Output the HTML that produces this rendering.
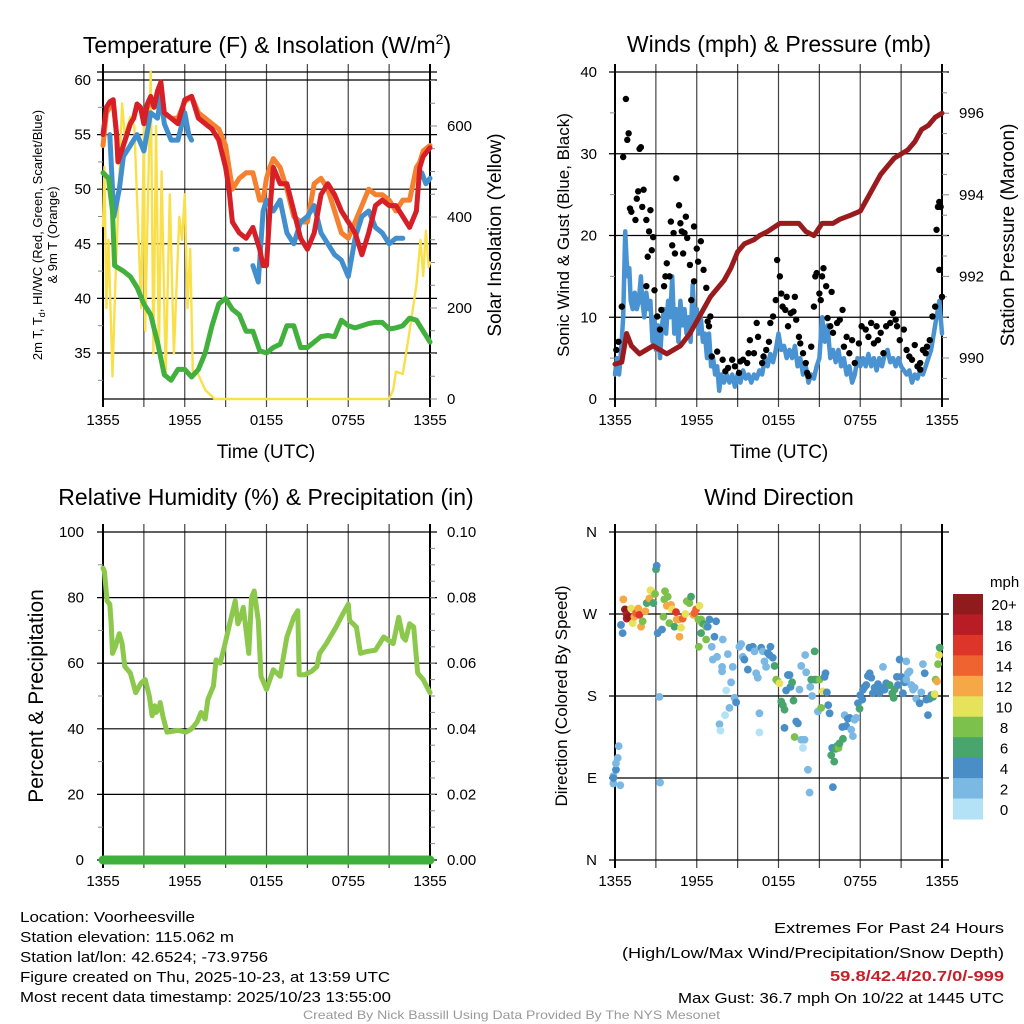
<!DOCTYPE html>
<html><head><meta charset="utf-8"><style>
html,body{margin:0;padding:0;background:#fff}
svg{display:block;font-family:"Liberation Sans",sans-serif}
</style></head><body>
<svg id="c" width="1024" height="1024" viewBox="0 0 1024 1024" xmlns="http://www.w3.org/2000/svg">
<rect width="1024" height="1024" fill="#fff"/>
<g id="gTL"></g>
<g id="gTR"></g>
<g id="gBL"></g>
<g id="gBR"></g>
<text x="267" y="53" font-size="23" text-anchor="middle">Temperature (F) &amp; Insolation (W/m<tspan dy="-9" font-size="14">2</tspan><tspan dy="9">)</tspan></text>
<text x="779" y="52" font-size="23" text-anchor="middle">Winds (mph) &amp; Pressure (mb)</text>
<text x="266" y="505" font-size="23" text-anchor="middle">Relative Humidity (%) &amp; Precipitation (in)</text>
<text x="779" y="505" font-size="23" text-anchor="middle">Wind Direction</text>
<text x="266" y="458" font-size="19" text-anchor="middle">Time (UTC)</text>
<text x="779" y="458" font-size="19" text-anchor="middle">Time (UTC)</text>
<g font-size="13">
<text transform="translate(42,235) rotate(-90)" text-anchor="middle">2m T, T<tspan dy="3" font-size="9">d</tspan><tspan dy="-3">, HI/WC (Red, Green, Scarlet/Blue)</tspan></text>
<text transform="translate(57,235) rotate(-90)" text-anchor="middle">&amp; 9m T (Orange)</text>
</g>
<text transform="translate(501,235) rotate(-90)" font-size="19" text-anchor="middle">Solar Insolation (Yellow)</text>
<text transform="translate(569,235) rotate(-90)" font-size="17" text-anchor="middle">Sonic Wind &amp; Gust (Blue, Black)</text>
<text transform="translate(1014,235) rotate(-90)" font-size="19" text-anchor="middle">Station Pressure (Maroon)</text>
<text transform="translate(43,696) rotate(-90)" font-size="21" text-anchor="middle">Percent &amp; Precipitation</text>
<text transform="translate(567,696) rotate(-90)" font-size="17" text-anchor="middle">Direction (Colored By Speed)</text>
<g font-size="15">
<text x="20" y="922" textLength="175" lengthAdjust="spacingAndGlyphs">Location: Voorheesville</text>
<text x="20" y="942" textLength="214" lengthAdjust="spacingAndGlyphs">Station elevation: 115.062 m</text>
<text x="20" y="962" textLength="248" lengthAdjust="spacingAndGlyphs">Station lat/lon: 42.6524; -73.9756</text>
<text x="20" y="982" textLength="370" lengthAdjust="spacingAndGlyphs">Figure created on Thu, 2025-10-23, at 13:59 UTC</text>
<text x="20" y="1002" textLength="371" lengthAdjust="spacingAndGlyphs">Most recent data timestamp: 2025/10/23 13:55:00</text>
</g>
<g font-size="15">
<text x="774" y="933" textLength="230" lengthAdjust="spacingAndGlyphs">Extremes For Past 24 Hours</text>
<text x="622" y="958" textLength="382" lengthAdjust="spacingAndGlyphs">(High/Low/Max Wind/Precipitation/Snow Depth)</text>
<text x="830" y="981" textLength="174" lengthAdjust="spacingAndGlyphs" fill="#c8202a" font-weight="bold">59.8/42.4/20.7/0/-999</text>
<text x="678" y="1003" textLength="326" lengthAdjust="spacingAndGlyphs">Max Gust: 36.7 mph On 10/22 at 1445 UTC</text>
</g>
<text x="303" y="1019" font-size="12" fill="#999" textLength="417" lengthAdjust="spacingAndGlyphs">Created By Nick Bassill Using Data Provided By The NYS Mesonet</text>
</svg>
<script>
// ---------- data (hours since 1355 UTC) ----------
const xTickLabels = ["1355","1955","0155","0755","1355"];
const tHours = [0,0.25,0.5,0.75,1.0,1.1,1.5,2.0,2.25,2.5,2.75,3.0,3.25,3.5,3.75,4.0,4.25,4.5,5,5.5,6,6.5,7,7.5,8,8.5,9,9.25,9.5,10,10.5,11,11.5,11.75,12,12.25,12.5,13,13.5,14,14.5,15,15.5,16,16.5,17,17.5,18,18.5,19,19.5,20,20.5,21,21.5,22,22.5,23,23.25,23.5,24];
const tempRed = [55,57.5,58,58.2,55,52.5,54,56,56.5,57.8,57.5,56,57.8,58.5,57.5,59,59.8,57,56.5,56,58.2,58.5,56.5,56,55.5,54.5,52,50,47,46,45.5,46.5,44.5,43,43,48,52,50.5,50.5,48,45.5,44.5,46,49.5,50.5,49.5,48,47,46,44,46,48.5,49,48.5,48.5,47.5,46.5,48,52,53,53.8];
const temp9m = [54,57,57.5,58,55,52.5,54,56,56.5,57.8,57.5,56,57.5,58,57.5,58.5,59,57,56.5,56.5,58,58.5,57,56.5,56,55.5,54,52,50,51,51.5,51.5,49,49,51,52,52.8,52,50,47.5,47,47,50.5,51,50,48,46,45.5,47,48.5,50,49.5,49.5,49,48,49,49,52,52.5,53.5,54];
const wcHours = [0.5,0.8,1.2,1.5,2,2.5,3,3.5,4,4.25,4.5,5,5.5,6,6.3,6.5,null,9.7,9.85,null,11,11.4,11.75,12,12.5,13,13.5,14,14.5,15,15.5,16,16.5,17,17.5,18,18.5,19,19.5,20,20.5,21,21.5,22,null,23.4,23.7,24];
const windChill = [55,47.5,50,53,54,55,53.5,57,56.5,58.5,56,54.5,54.5,57,55,54.5,null,44.5,44.5,null,43,41.5,48,49,48,49,46,45,47,47.5,48.5,46,45,44,43.5,42,45.5,47.5,48,46.5,46,45,45.5,45.5,null,51.5,50.5,51];
const tdHours = [0,0.4,0.7,0.85,1.5,2,2.5,3,3.5,4,4.5,5,5.5,6,6.5,7,7.5,8,8.5,9,9.5,10,10.5,11,11.5,12,12.5,13,13.5,14,14.5,15,15.5,16,16.5,17,17.5,18,18.5,19,19.5,20,20.5,21,21.5,22,22.5,23,23.5,24];
const dewpoint = [51.5,51,48,43,42.5,42,41,39.5,38.5,36,33,32.5,33.5,33.5,32.8,33.5,35,37.5,39.5,40,39,38.5,37,37,35.2,35,35.5,35.8,37.5,37.5,35.5,35.5,36,36.5,36.6,36.5,38,37.5,37.3,37.5,37.7,37.8,37.8,37.2,37.3,37.5,38.2,38,37,36];
const solHours = [0,0.1,0.25,0.4,0.7,0.9,1.4,1.6,2,2.3,2.8,3.0,3.1,3.5,3.7,3.9,4.1,4.3,4.6,4.9,5.2,5.6,5.8,6.0,6.2,6.4,6.6,6.9,7.5,8.2,21,21.3,21.5,22,22.5,23,23.3,23.5,23.7,23.9,24];
const solar = [380,510,200,350,50,250,650,580,620,600,200,600,150,720,100,600,100,500,50,450,100,400,350,450,200,330,50,60,20,0,0,20,60,55,150,250,350,270,370,290,300];
const presHours = [0,0.5,0.85,1.2,1.8,2.3,2.8,3.3,3.8,4.3,4.8,5.5,6.0,6.5,7.0,7.5,8.0,8.5,9.0,9.5,10.2,10.6,11.2,12.1,12.8,13.5,14.0,14.6,15.2,16.0,16.5,17.3,18.0,18.5,19.0,19.5,20.0,20.5,21.0,21.5,22.0,22.5,23.0,23.5,24];
const pressure = [989.85,989.9,990.6,990.3,990.1,990.2,990.3,990.2,990.1,990.2,990.3,990.6,990.9,991.2,991.5,991.7,991.9,992.2,992.6,992.8,992.9,993.0,993.1,993.3,993.3,993.3,993.1,993.0,993.3,993.3,993.4,993.5,993.6,993.9,994.2,994.5,994.7,994.9,995.0,995.1,995.3,995.6,995.7,995.9,996.0];
const windHours = [0,0.15,0.3,0.45,0.6,0.75,0.85,0.95,1.05,1.15,1.3,1.45,1.6,1.75,1.9,2.0,2.15,2.3,2.45,2.6,2.75,2.9,3.0,3.15,3.3,3.45,3.6,3.75,3.9,4.05,4.2,4.35,4.5,4.65,4.8,4.95,5.1,5.25,5.4,5.55,5.7,5.85,6.0,6.15,6.3,6.45,6.6,6.75,6.9,7.05,7.2,7.35,7.5,7.65,7.8,8.0,8.2,8.4,8.6,8.8,9.0,9.2,9.4,9.6,9.8,10.0,10.2,10.4,10.6,10.8,11.0,11.2,11.4,11.6,11.8,12.0,12.2,12.4,12.6,12.8,13.0,13.2,13.4,13.6,13.8,14.0,14.2,14.4,14.6,14.8,15.0,15.2,15.4,15.6,15.8,16.0,16.2,16.4,16.6,16.8,17.0,17.2,17.4,17.6,17.8,18.0,18.2,18.4,18.6,18.8,19.0,19.2,19.4,19.6,19.8,20.0,20.2,20.4,20.6,20.8,21.0,21.2,21.4,21.6,21.8,22.0,22.2,22.4,22.6,22.8,23.0,23.2,23.4,23.6,23.8,24.0];
const windSpeed = [3,5,3,6,10,20.5,17,15,16,12,11,13,11,12,15,12,10,13,11,12,7,10,6,9,5,9,11,8,12,10,15,8,11,7,12,9,11,8,10,7,14,9,11,8,10,7,8,5,8,4,5,3,4,1,3,2,3,2,3,1.5,3,2,3.5,2.5,3,2,3,2.5,3.5,3,5,4,5.5,4.5,6,8,6,6.5,5,6,5,6.5,4,5,3,4,2,3,2.5,4,5,10,7,9,5,6,4.5,6,4,5,3,4,2,3,5,4,5,4,5.5,4,5,3.5,5,4,5.5,6,4.5,5,4,5,4,3.5,3,3.5,2,3,2.5,3.5,3,4,5,6,8,10,12,8];
const gustHours = [0.6,0.8,0.9,1.0,1.8,1.9,0.5,0.1,0.25,1.2,1.1,1.5,1.6,1.7,2.1,2.0,2.3,2.6,2.5,2.7,2.8,2.4,2.3,2.9,3.1,3.3,3.4,3.6,3.8,3.7,4.0,4.1,4.3,4.2,4.4,4.5,4.7,4.8,4.9,5.0,5.2,5.1,5.3,5.5,5.6,5.8,5.8,6.0,6.1,6.3,6.5,6.7,7.0,6.9,6.8,7.1,7.5,7.9,8.1,8.3,8.6,8.8,9.1,9.2,9.4,9.7,9.8,9.9,10.2,10.4,10.5,10.8,10.9,11.1,11.3,11.4,11.6,11.8,11.9,12.1,12.2,12.3,12.5,12.6,12.7,12.9,13.1,13.2,13.3,13.5,13.6,13.8,14.0,14.1,14.2,14.4,14.6,14.7,14.8,15.0,15.1,15.2,15.3,15.5,15.6,15.8,15.9,16.0,16.3,16.5,16.7,16.8,17.0,17.2,17.4,17.6,17.9,18.1,18.4,18.6,18.8,19.0,19.2,19.3,19.5,19.7,19.9,20.2,20.4,20.6,20.7,20.9,21.2,21.4,21.6,21.8,22.0,22.2,22.4,22.6,22.8,22.9,23.1,23.3,23.5,23.6,23.7,23.8,23.9,23.8,24.0,22.4];
const gustSpeed = [29.6,36.7,31.7,32.5,30.6,30.8,11.3,6,7,22.9,23.3,21.9,24.5,25.4,25.6,23.5,21.9,23.1,20.5,18.2,19.8,17.4,13.8,13.3,10.1,8.5,10.9,13.8,16.6,15,15,21.7,20.3,18.8,17.8,27,23.7,21.5,20.5,17.8,22.3,20.3,19.7,16.4,12.1,14.4,21.1,18.4,16.8,19.3,15.8,13.6,10.1,8.9,9.5,5.2,5.8,4.8,3.4,3.8,4.8,4,3.2,4.6,4.8,4.4,5.6,7.2,5.6,9.3,7.6,4.4,5.2,6,7,9.3,10.1,12.1,17,15,12.9,11.3,10.9,12.5,8.9,10.5,10.7,12.5,9.7,7.6,6.8,5.6,4.4,3.2,2.8,6.4,11.3,15,15.4,12.9,12.1,15,16,13.8,9.9,8.9,13.1,8.1,9.3,9.7,10.9,6.4,7.6,5.6,7.2,4.4,6.8,8.9,8.5,7.6,9.3,6.8,8.9,7.2,8.1,5.6,8.9,9.3,10.5,9.7,8.9,7.2,8.5,6,5.2,4.8,6.6,4,4.4,6,5.6,6.4,7.2,10.1,11.3,20.7,23.5,24.1,23.5,15.8,12.5,3.6];
const rhHours = [0,0.1,0.3,0.5,0.6,0.7,0.9,1.2,1.4,1.6,2.0,2.2,2.4,2.8,3.1,3.4,3.6,3.8,3.9,4.1,4.2,4.4,4.7,5.5,6.1,6.5,6.9,7.2,7.5,7.7,8.1,8.3,8.6,8.9,9.3,9.7,9.9,10.1,10.3,10.5,10.7,10.9,11.1,11.4,11.6,12.0,12.5,13.0,13.2,13.5,14.0,14.3,14.4,14.8,15.3,15.7,15.9,16.4,17.1,17.6,18.0,18.1,18.6,18.9,19.3,20.0,20.6,21.3,21.7,22.0,22.2,22.5,22.8,23.1,23.5,24];
const humidity = [89,88,79,78,72,63,65,69,66,59,57,54,51,54,55,50,44,47,45,46,48,43.7,39,39.5,39,40,42,45,43,49,53,61,60,65,72,79,72,74,77,70,63,80,82,73,56,52,58,56,61,68,74,76,56.5,56.5,57.5,59,63,66,71,75,78,73,71,63,63.5,64,68,66,74,68,67,72,71,57,55,51];
const precipHours = [0,24];
const precip = [0,0];
const dirHours = [-0.12,-0.12,0.07,0.2,0.27,0.07,0.39,-0.12,0.44,0.56,0.61,0.73,0.86,0.86,0.98,1.18,1.3,1.42,1.54,1.71,1.79,1.91,2.03,2.23,2.33,2.52,2.6,2.69,2.82,2.94,3.01,3.06,3.13,3.26,3.31,3.45,3.55,3.62,3.67,3.8,3.87,3.99,4.11,4.19,4.36,4.48,4.53,4.68,4.73,4.85,4.97,5.17,5.27,5.46,5.58,5.76,5.83,5.95,6.12,6.2,6.32,6.39,6.51,6.69,6.81,6.93,6.15,6.32,6.69,7.42,7.3,7.1,7.18,7.49,7.86,7.86,7.91,8.16,8.28,8.4,8.52,8.64,8.77,8.89,7.67,7.74,8.08,9.13,9.26,9.38,9.5,9.75,9.87,10.11,10.24,10.36,10.48,10.6,10.6,10.73,10.85,10.97,11.09,11.22,11.34,11.41,11.58,11.71,11.83,11.95,12.07,12.2,12.32,12.44,12.56,12.69,12.81,12.88,13.0,13.1,13.3,13.42,13.18,12.44,13.54,13.67,13.79,13.67,13.91,13.96,14.03,14.16,14.28,14.33,14.4,14.47,14.65,14.65,14.77,14.89,15.01,15.13,15.26,15.38,15.45,15.55,15.65,15.75,15.87,15.94,15.99,16.09,16.19,16.29,16.41,16.48,16.73,16.68,16.85,16.97,17.09,17.22,17.34,17.46,17.58,17.71,17.83,17.95,18.0,18.15,18.2,18.32,18.44,18.56,18.69,18.81,18.93,19.05,19.18,19.3,19.42,19.54,19.67,19.79,19.91,20.16,20.35,20.45,20.52,20.69,20.77,20.89,21.01,21.13,21.26,21.38,21.38,21.5,21.62,21.75,21.87,21.99,22.11,22.36,22.48,22.6,22.73,22.85,22.97,23.09,23.22,23.34,23.46,23.53,23.63,23.71,23.78,23.83,24.0];
const dirDeg = [84,92,99,112,125,106,82,90,258,249,286,275,265,269,267,276,260,267,271,276,269,256,262,273,282,287,296,295,282,292,319,323,249,179,85,253,267,286,295,279,289,260,280,275,256,272,264,264,245,255,265,270,284,282,289,269,271,275,264,279,264,260,259,256,256,264,234,249,242,262,245,234,220,223,212,207,242,186,226,167,195,212,178,173,149,142,159,234,237,223,220,209,233,234,229,205,200,161,140,233,229,218,212,227,225,234,222,213,198,196,194,174,170,165,186,203,203,190,195,175,152,150,135,145,187,213,123,132,132,225,206,99,74,190,198,180,229,198,198,163,198,167,185,201,205,184,170,161,115,123,80,108,122,125,123,128,133,146,159,147,155,156,143,136,154,156,172,166,181,176,187,190,192,202,205,200,183,189,190,193,183,189,212,187,194,192,183,178,187,201,192,220,201,183,195,198,218,205,207,192,187,189,177,172,184,215,205,176,159,177,181,179,182,198,196,215,225,233,218];
const dirSpeed = [3,2,4,2,2,2,2,4,4,4,12,20,18,18,20,10,10,12,14,12,16,12,8,12,6,12,10,10,6,8,6,4,4,2,2,4,8,8,8,12,8,8,12,10,6,16,12,12,12,10,14,10,8,8,6,12,14,14,8,10,8,8,6,8,4,4,8,6,8,4,4,2,2,2,2,2,2,0,2,2,2,2,2,4,2,0,1,2,2,2,4,4,4,4,2,2,2,2,0,4,2,2,2,4,4,4,4,6,8,8,10,6,6,6,4,4,4,4,6,6,4,4,8,4,2,2,0,2,2,2,2,2,2,2,6,2,6,6,6,2,8,8,10,4,4,4,4,4,6,4,4,6,6,6,8,6,6,4,2,4,4,4,2,2,2,2,4,6,4,4,4,4,4,4,4,4,4,4,4,4,4,4,2,4,4,6,6,6,6,4,4,4,4,4,4,2,2,2,2,2,2,2,2,4,2,2,4,4,4,4,4,6,10,8,12,8,10,6];
const speedBins = ["0","2","4","6","8","10","12","14","16","18","20+"];
const speedColors = ["#b3e2f6","#7bb8e3","#4a8ec7","#48a56d","#7cc14b","#e6e25a","#f5a845","#ee6330","#dd3529","#b81c24","#911a1c"];

// ---------- helpers ----------
const NS="http://www.w3.org/2000/svg";
function mk(parent,tag,attrs){const e=document.createElementNS(NS,tag);for(const k in attrs)e.setAttribute(k,attrs[k]);parent.appendChild(e);return e;}
function xs(x0,x1){return h=>x0+h*(x1-x0)/24;}
function pathFrom(hs,vs,fx,fy){let d="",pen=false;for(let i=0;i<hs.length;i++){if(hs[i]===null||vs[i]===null){pen=false;continue;}d+=(pen?"L":"M")+fx(hs[i]).toFixed(1)+","+fy(vs[i]).toFixed(1);pen=true;}return d;}
function frame(g,x0,x1,yTop,yBot,prefix){
  for(let h=0;h<=24;h+=3){const x=x0+h*(x1-x0)/24;
    const l=mk(g,"line",{x1:x,x2:x,y1:yTop-8,y2:yBot+8,stroke:(h===0||h===24)?"#000":"#444","stroke-width":(h===0||h===24)?2:1.2});
    
    }
  for(let i=0;i<xTickLabels.length;i++){const x=x0+i*6*(x1-x0)/24;
    const t=mk(g,"text",{x:x,y:yBot+26,"font-size":15,"text-anchor":"middle"});t.textContent=xTickLabels[i];
    
    }
}
function hgrid(g,x0,x1,y,prefix,major){const l=mk(g,"line",{x1:x0-6,x2:x1+7,y1:y,y2:y,stroke:major?"#000":"#555","stroke-width":1.2});
  
  }
function tick(g,x,y,len,prefix){const l=mk(g,"line",{x1:x,x2:x+len,y1:y,y2:y,stroke:"#888","stroke-width":1});
  
  }
function label(g,x,y,txt,anchor,prefix,size){const t=mk(g,"text",{x:x,y:y+5,"font-size":size||15,"text-anchor":anchor});t.textContent=txt;
  
  }
function line(g,d,color,w,name){const p=mk(g,"path",{d:d,fill:"none",stroke:color,"stroke-width":w,"stroke-linejoin":"round","stroke-linecap":"round"});
  
  return p;}

// ---------- Top-left: temperature ----------
(function(){const g=document.getElementById("gTL");const X0=103,X1=430,YT=72,YB=399;const fx=xs(X0,X1);
  const fy=v=>80+(60-v)*54.6/5; const fs=w=>399-w*0.455;
  frame(g,X0,X1,YT,YB,"temp");
  hgrid(g,X0,X1,YT,"temp",true);
  for(let v=35;v<=60;v+=5){hgrid(g,X0,X1,fy(v),"temp",true);label(g,91,fy(v),String(v),"end","temp-left");}
  for(let v=32.5;v<60;v+=5){tick(g,X0-5,fy(v),5,"temp-left");}
  mk(g,"line",{x1:X0,x2:X1,y1:YB,y2:YB,stroke:"#000","stroke-width":1.2});
  for(let w=0;w<=600;w+=200){tick(g,X1,fs(w),7,"insolation");label(g,447,fs(w),String(w),"start","insolation");}
  for(let w=50;w<=700;w+=50){if(w%200)tick(g,X1,fs(w),5,"insolation");}
  line(g,pathFrom(solHours,solar,fx,fs),"#f9e04b",2.4,"solar-insolation-line");
  line(g,pathFrom(tHours,temp9m,fx,fy),"#f5802f",5,"temp-9m-line");
  line(g,pathFrom(wcHours,windChill,fx,fy),"#428fcd",5,"heat-index-wind-chill-line");
  line(g,pathFrom(tHours,tempRed,fx,fy),"#d61f26",5,"temp-2m-line");
  line(g,pathFrom(tdHours,dewpoint,fx,fy),"#42b03d",5,"dewpoint-line");
})();

// ---------- Top-right: winds & pressure ----------
(function(){const g=document.getElementById("gTR");const X0=615,X1=942,YT=72,YB=399;const fx=xs(X0,X1);
  const fw=v=>399-v*8.175; const fp=p=>358-(p-990)*40.8;
  frame(g,X0,X1,YT,YB,"wind");
  for(let v=0;v<=40;v+=10){hgrid(g,X0,X1,fw(v),"wind",true);label(g,597,fw(v),String(v),"end","wind-left");}
  for(let v=5;v<40;v+=10){tick(g,X0-5,fw(v),5,"wind-left");}
  for(let p=990;p<=996;p+=2){tick(g,X1,fp(p),7,"pressure");label(g,959,fp(p),String(p),"start","pressure");}
  for(let p=989.5;p<=997;p+=0.5){if(p%2)tick(g,X1,fp(p),5,"pressure");}
  line(g,pathFrom(windHours,windSpeed,fx,fw),"#4a93d3",4.5,"sonic-wind-line");
  line(g,pathFrom(presHours,pressure,fx,fp),"#9a1b1e",5,"station-pressure-line");
  for(let i=0;i<gustHours.length;i++){const c=mk(g,"circle",{cx:fx(gustHours[i]),cy:fw(gustSpeed[i]),r:3.2,fill:"#000"});
    
    }
})();

// ---------- Bottom-left: humidity ----------
(function(){const g=document.getElementById("gBL");const X0=103,X1=430,YT=532,YB=860;const fx=xs(X0,X1);
  const fr=v=>860-v*3.28; const fq=q=>860-q*3280;
  frame(g,X0,X1,YT,YB,"rh");
  for(let v=0;v<=100;v+=20){hgrid(g,X0,X1,fr(v),"rh",true);label(g,84,fr(v),String(v),"end","rh-left");}
  for(let v=10;v<100;v+=20){tick(g,X0-5,fr(v),5,"rh-left");}
  for(let q=0;q<=0.1001;q+=0.02){label(g,447,fq(q),q.toFixed(2),"start","precip");}
  for(let q=0.005;q<0.1;q+=0.005){tick(g,X1,fq(q),5,"precip");}
  line(g,pathFrom(rhHours,humidity,fx,fr),"#8cc84b",5,"relative-humidity-line");
  line(g,pathFrom(precipHours,precip,fx,fq),"#3fb03c",9,"precipitation-line");
})();

// ---------- Bottom-right: wind direction ----------
(function(){const g=document.getElementById("gBR");const X0=615,X1=942,YT=532,YB=860;const fx=xs(X0,X1);
  const fd=d=>860-d*328/360;
  frame(g,X0,X1,YT,YB,"dir");
  const dirs=["N","E","S","W","N"];
  for(let i=0;i<5;i++){hgrid(g,X0,X1,fd(i*90),"dir",true);label(g,597,fd(i*90),dirs[i],"end","dir-left");}
  const n=Math.min(dirHours.length,dirDeg.length,dirSpeed.length);
  for(let i=0;i<n;i++){const b=Math.min(10,Math.floor(dirSpeed[i]/2));
    const c=mk(g,"circle",{cx:fx(dirHours[i]),cy:fd(dirDeg[i]),r:3.9,fill:speedColors[b]});
    
    }
  const L=document.getElementById("c");
  const t=mk(L,"text",{x:990,y:587,"font-size":15,"text-anchor":"start"});t.textContent="mph";
  
  
  const bh=(819-594)/11;
  for(let i=0;i<11;i++){const k=10-i;const y=594+i*bh;
    const r=mk(L,"rect",{x:953,y:y,width:30,height:bh+0.5,fill:speedColors[k]});
    
    
    const tt=mk(L,"text",{x:1004,y:y+bh/2+6,"font-size":15,"text-anchor":"middle"});tt.textContent=speedBins[k];
    
    }
})();
</script>
</body></html>
